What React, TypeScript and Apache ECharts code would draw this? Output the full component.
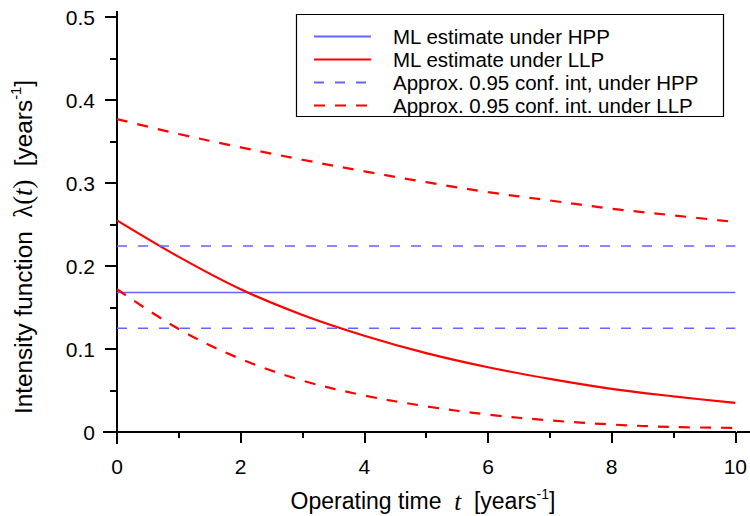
import React, { useEffect, useRef } from "react";
import * as echarts from "echarts";

// Operating time t (years)
const tValues = [0, 1, 2, 3, 4, 5, 6, 7, 8, 9, 10];
// HPP: constant intensity estimate and its confidence bounds
const hppMl = 0.168;
const hppLower = 0.125;
const hppUpper = 0.224;
// LLP: log-linear estimate and confidence bounds, read at each t
const llpMl = [0.255, 0.211, 0.172, 0.141, 0.116, 0.095, 0.078, 0.064, 0.052, 0.043, 0.035];
const llpUpper = [0.377, 0.359, 0.343, 0.328, 0.314, 0.301, 0.289, 0.279, 0.269, 0.261, 0.253];
const llpLower = [0.172, 0.124, 0.088, 0.062, 0.044, 0.031, 0.021, 0.014, 0.009, 0.006, 0.005];

const legendNames = [
  "ML estimate under HPP",
  "ML estimate under LLP",
  "Approx. 0.95 conf. int, under HPP",
  "Approx. 0.95 conf. int. under LLP",
];

const SANS = "'Liberation Sans', Arial, Helvetica, sans-serif";
const SERIF = "'Liberation Serif', 'Times New Roman', serif";
const BLUE = "#6464ff";
const RED = "#ff0000";

const pairs = (vals: number[]) => tValues.map((t, i) => [t, vals[i]]);
const flat = (v: number) => [
  [tValues[0], v],
  [tValues[tValues.length - 1], v],
];

const makeRich = (k: number) => ({
  n: { fontFamily: SANS, fontSize: 23 * k, lineHeight: 28 * k, color: "#000" },
  s: { fontFamily: SERIF, fontSize: 25 * k, lineHeight: 28 * k, color: "#000" },
  it: { fontFamily: SERIF, fontSize: 25 * k, lineHeight: 28 * k, fontStyle: "italic", color: "#000" },
  sup: { fontFamily: SANS, fontSize: 14 * k, lineHeight: 14 * k, verticalAlign: "top", color: "#000" },
});

export default function App() {
  const ref = useRef<HTMLDivElement>(null);
  useEffect(() => {
    document.body.style.margin = "0";
    if (!ref.current) return;
    const chart = echarts.init(ref.current, undefined, { renderer: "svg" });
    const axisCommon = {
      axisLine: { show: true, lineStyle: { color: "#000", width: 2 } },
      splitLine: { show: false },
      minorSplitLine: { show: false },
    };
    const lineSeries = (name: string, data: number[][], color: string, width: number, type: any, smooth: boolean) => ({
      name,
      type: "line",
      data,
      smooth: smooth ? 0.35 : false,
      symbol: "none",
      showSymbol: false,
      lineStyle: { color, width, type },
      itemStyle: { color },
    });
    const option: any = {
      animation: false,
      backgroundColor: "#fff",
      grid: { left: 117, right: 13, top: 17, bottom: 84 },
      xAxis: {
        type: "value",
        min: 0,
        max: 10,
        interval: 2,
        ...axisCommon,
        axisTick: { show: true, length: 11, lineStyle: { color: "#000", width: 2 } },
        minorTick: { show: true, splitNumber: 2, length: 6, lineStyle: { color: "#000", width: 2 } },
        axisLabel: { fontSize: 21, color: "#000", fontFamily: SANS, margin: 24 },
      },
      yAxis: {
        type: "value",
        min: 0,
        max: 0.5,
        interval: 0.1,
        ...axisCommon,
        axisTick: { show: true, length: 12, lineStyle: { color: "#000", width: 2 } },
        minorTick: { show: true, splitNumber: 2, length: 7, lineStyle: { color: "#000", width: 2 } },
        axisLabel: { fontSize: 21, color: "#000", fontFamily: SANS, margin: 22 },
      },
      legend: {
        orient: "vertical",
        left: 296,
        top: 14,
        padding: [12, 10, 9, 17],
        itemWidth: 57,
        itemHeight: 14,
        itemGap: 2,
        selectedMode: false,
        data: legendNames,
        itemStyle: { opacity: 0 },
        textStyle: { fontSize: 20.5, fontFamily: SANS, color: "#000", lineHeight: 20.5, padding: [0, 0, 0, 17] },
      },
      graphic: [
        {
          type: "rect",
          shape: { x: 296.5, y: 14.5, width: 427, height: 102 },
          style: { fill: "none", stroke: "#000", lineWidth: 1.2 },
          z: 100,
        },
        { type: "line", shape: { x1: 103, y1: 432, x2: 117, y2: 432 }, style: { stroke: "#000", lineWidth: 2 } },
        { type: "line", shape: { x1: 737, y1: 432, x2: 750, y2: 432 }, style: { stroke: "#000", lineWidth: 2 } },
        { type: "line", shape: { x1: 117, y1: 432, x2: 117, y2: 444 }, style: { stroke: "#000", lineWidth: 2 } },
        { type: "line", shape: { x1: 117, y1: 11, x2: 117, y2: 17 }, style: { stroke: "#000", lineWidth: 2 } },
        {
          type: "text",
          x: 423,
          y: 501,
          style: {
            text: "{n|Operating time  }{it|t}{n|  [years}{sup|-1}{n|]}",
            rich: makeRich(1),
            align: "center",
            verticalAlign: "middle",
          },
        },
        {
          type: "text",
          x: 23,
          y: 247,
          rotation: Math.PI / 2,
          style: {
            text: "{n|Intensity function  }{s|λ(}{it|t}{s|)}{n|  [years}{sup|-1}{n|]}",
            rich: makeRich(1.06),
            align: "center",
            verticalAlign: "middle",
          },
        },
      ],
      series: [
        lineSeries(legendNames[0], flat(hppMl), BLUE, 1.5, "solid", false),
        lineSeries(legendNames[1], pairs(llpMl), RED, 2.2, "solid", true),
        lineSeries(legendNames[2], flat(hppUpper), BLUE, 1.5, [10, 11], false),
        lineSeries(legendNames[2], flat(hppLower), BLUE, 1.5, [10, 11], false),
        lineSeries(legendNames[3], pairs(llpUpper), RED, 2.2, [11, 10], true),
        lineSeries(legendNames[3], pairs(llpLower), RED, 2.2, [11, 10], true),
      ],
    };
    chart.setOption(option);
    return () => chart.dispose();
  }, []);
  return <div ref={ref} style={{ width: 750, height: 516 }} />;
}
